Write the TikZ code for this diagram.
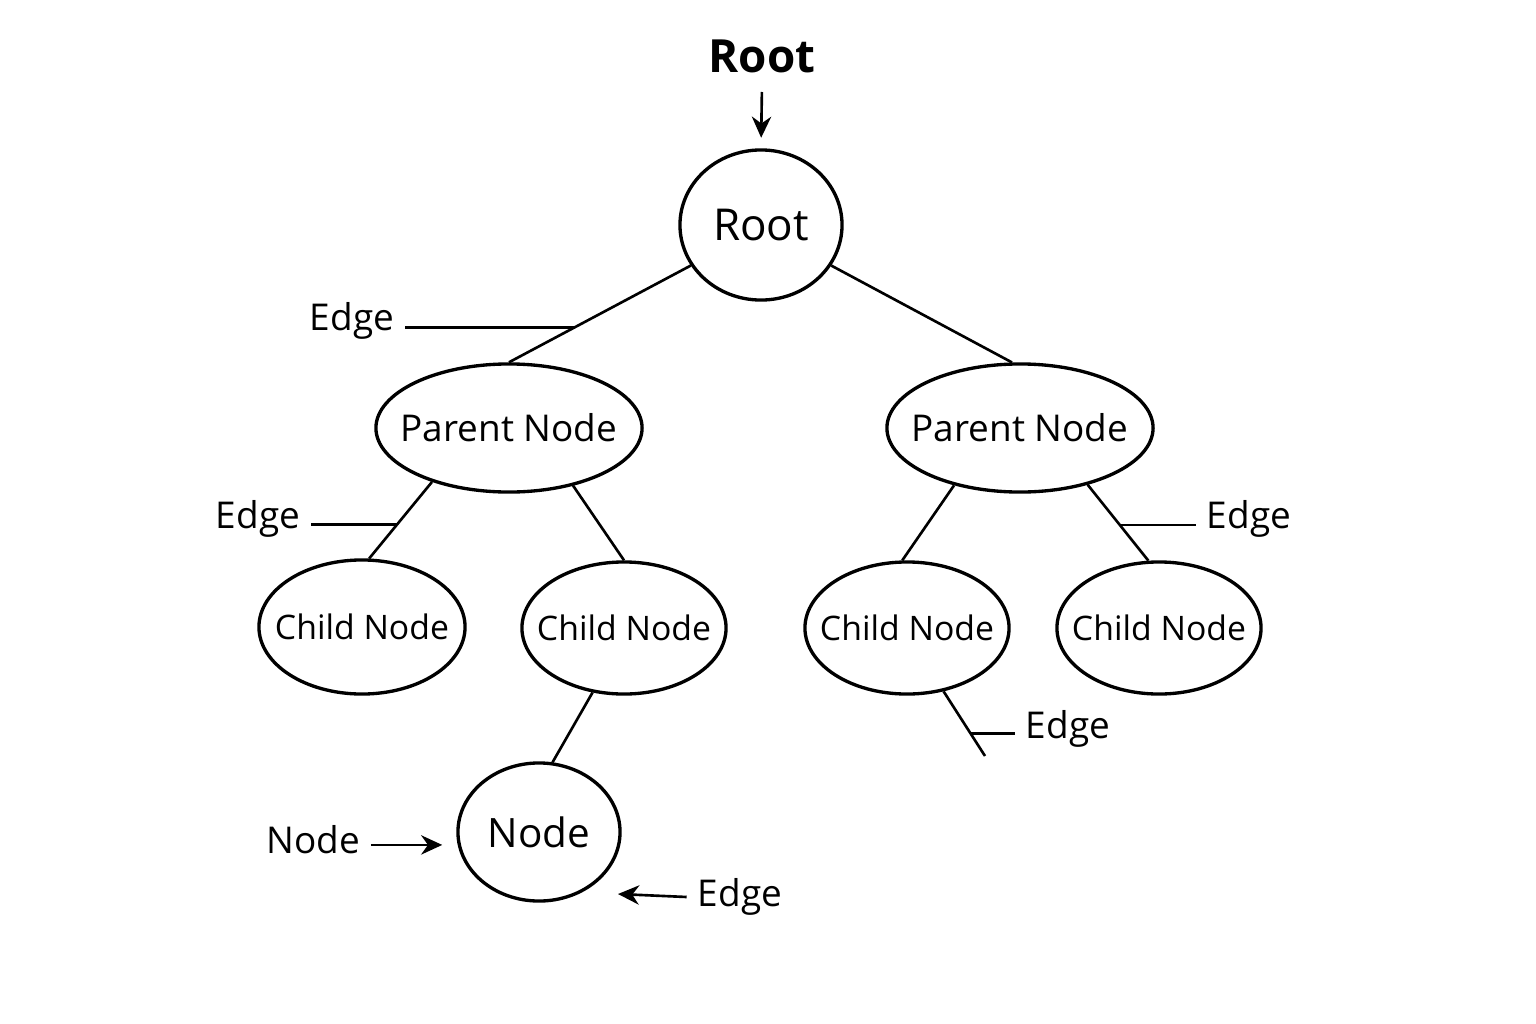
\documentclass[tikz,border=0pt]{standalone}
\usepackage{fontspec}
\setmainfont{Open Sans}
\usetikzlibrary{shapes.geometric,arrows.meta}
\newcommand{\tn}[1]{\makebox[0pt]{#1}}

\begin{document}
\begin{tikzpicture}[x=0.01cm,y=-0.01cm,
	treenode/.style={ellipse,draw,line width=0.95pt,inner sep=0},
	lbl/.style={inner sep=3pt,font=\fontsize{10.5}{12}\selectfont},
	link/.style={line width=0.75pt},
	pointer/.style={line width=0.75pt,-{Stealth[length=6pt,width=5.5pt]}}]
\useasboundingbox (0,0) rectangle (1536,1024);

% tree
\node[treenode,minimum width=1.62cm,minimum height=1.5cm,font=\fontsize{12.5}{14}\selectfont] (root) at (761,225) {\tn{Root}};
\node[treenode,minimum width=2.66cm,minimum height=1.28cm,font=\fontsize{10.5}{12}\selectfont] (lp) at (509,428) {\tn{Parent Node}};
\node[treenode,minimum width=2.66cm,minimum height=1.28cm,font=\fontsize{10.5}{12}\selectfont] (rp) at (1020,428) {\tn{Parent Node}};
\node[treenode,minimum width=2.06cm,minimum height=1.34cm,font=\fontsize{9.6}{11}\selectfont] (c1) at (362,627) {\tn{Child Node}};
\node[treenode,minimum width=2.04cm,minimum height=1.32cm,font=\fontsize{9.6}{11}\selectfont] (c2) at (624,628) {\tn{Child Node}};
\node[treenode,minimum width=2.04cm,minimum height=1.32cm,font=\fontsize{9.6}{11}\selectfont] (c3) at (907,628) {\tn{Child Node}};
\node[treenode,minimum width=2.04cm,minimum height=1.32cm,font=\fontsize{9.6}{11}\selectfont] (c4) at (1159,628) {\tn{Child Node}};
\node[treenode,minimum width=1.62cm,minimum height=1.38cm,font=\fontsize{11.5}{13}\selectfont] (nd) at (539,832) {\tn{Node}};
\coordinate (loose) at (985,756);

\draw[link] (root.210) -- coordinate[pos=0.64] (e1) (lp.north);
\draw[link] (root.330) -- (rp.97);
\draw[link] (lp.215) -- coordinate[pos=0.56] (e2) (c1.84);
\draw[link] (lp.318) -- (c2.north);
\draw[link] (rp.221) -- (c3.94);
\draw[link] (rp.320) -- coordinate[pos=0.53] (e3) (c4.99);
\draw[link] (c2.244) -- (nd.79);
\draw[link] (c3.300) -- coordinate[pos=0.65] (e4) (loose);

% labels
\node[font=\bfseries\fontsize{13}{15}\selectfont] (title) at (762,56) {Root};
\draw[pointer,shorten <=2pt,shorten >=3pt] (title.south) -- (root.north);

\node[lbl] (l1) at (352,321) {Edge};
\draw[link] (e1) -- (e1 -| l1.east);
\node[lbl] (l2) at (258,519) {Edge};
\draw[link] (e2) -- (e2 -| l2.east);
\node[lbl] (l3) at (1249,519) {Edge};
\draw[link] (e3) -- (e3 -| l3.west);
\node[lbl] (l4) at (1068,729) {Edge};
\draw[link] (e4) -- (e4 -| l4.west);

\node[lbl] (l5) at (313,840) {Node};
\draw[pointer,shorten >=4pt] ([yshift=-1.4pt]l5.east) -- ([yshift=-1.4pt]l5.east -| nd.west);
\node[lbl] (l6) at (740,897) {Edge};
\coordinate (tip) at (618,894);
\draw[pointer] (l6.west) -- (tip);
\end{tikzpicture}
\end{document}
